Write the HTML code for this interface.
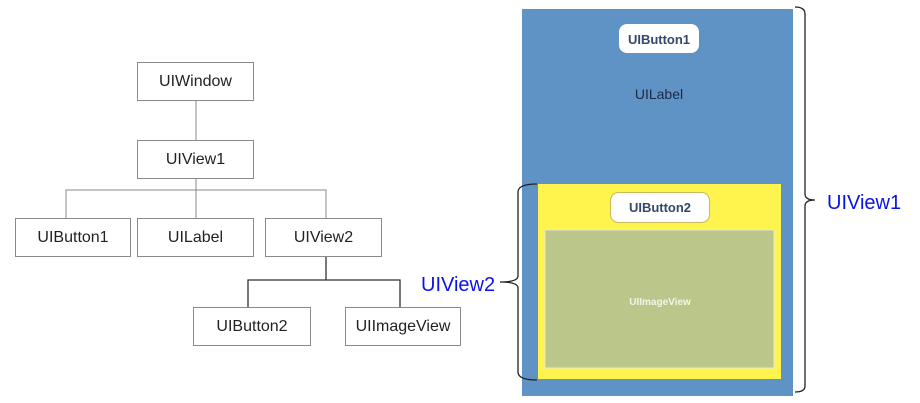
<!DOCTYPE html>
<html><head><style>
body{margin:0;width:920px;height:403px;background:#fff;position:relative;overflow:hidden;font-family:"Liberation Sans",Arial,sans-serif}
.b{position:absolute;box-sizing:border-box;border:1px solid #8a8a8a;background:#fff;display:flex;align-items:center;justify-content:center;font-size:16px;color:#222}
.a{position:absolute}
</style></head><body>
<svg class="a" style="left:0;top:0" width="920" height="403">
<g stroke="#888" stroke-width="1" fill="none">
<line x1="196" y1="101" x2="196" y2="140"/>
<line x1="196" y1="179" x2="196" y2="218"/>
<polyline points="66,218 66,190 326,190 326,218"/>
</g>
<g stroke="#333" stroke-width="1.3" fill="none">
<line x1="326" y1="257" x2="326" y2="280"/>
<polyline points="248,307 248,280 400,280 400,307"/>
</g>
<rect x="522" y="9" width="271" height="387" fill="#5f93c6"/>
<rect x="538" y="184" width="243" height="195" fill="#fff44d"/>
<rect x="545" y="230" width="229" height="138" fill="#bbc68a" stroke="#e6e6d0" stroke-width="1"/>
<rect x="619" y="24" width="80" height="29" rx="8" fill="#fff"/>
<rect x="610.5" y="192.5" width="99" height="30" rx="8" fill="#fff" stroke="#c8b860"/>
<g stroke="#222" stroke-width="1.3" fill="none">
<path d="M795,7 Q805,7 805,14 L805,194 Q805,200 815,200 Q805,200 805,206 L805,386 Q805,392 795,392"/>
<path d="M537,184 Q518,184 518,192 L518,276 Q518,282 500,282 Q518,282 518,288 L518,372 Q518,380 537,380"/>
</g>
<text x="659" y="44" font-size="13" font-weight="bold" fill="#33486a" text-anchor="middle" font-family="Liberation Sans">UIButton1</text>
<text x="659" y="99" font-size="14" fill="#1a2a44" text-anchor="middle" font-family="Liberation Sans">UILabel</text>
<text x="660" y="212" font-size="13" font-weight="bold" fill="#33486a" text-anchor="middle" font-family="Liberation Sans">UIButton2</text>
<text x="660" y="305" font-size="10" font-weight="bold" fill="#f4f4e8" text-anchor="middle" font-family="Liberation Sans">UIImageView</text>
<text x="827" y="209" font-size="20" fill="#0a14e6" font-family="Liberation Sans">UIView1</text>
<text x="421" y="291" font-size="20" fill="#0a14e6" font-family="Liberation Sans">UIView2</text>
</svg>
<div class="b" style="left:137px;top:62px;width:117px;height:39px">UIWindow</div>
<div class="b" style="left:137px;top:140px;width:117px;height:39px">UIView1</div>
<div class="b" style="left:15px;top:218px;width:116px;height:39px">UIButton1</div>
<div class="b" style="left:137px;top:218px;width:117px;height:39px">UILabel</div>
<div class="b" style="left:265px;top:218px;width:117px;height:39px">UIView2</div>
<div class="b" style="left:193px;top:307px;width:118px;height:39px">UIButton2</div>
<div class="b" style="left:345px;top:307px;width:116px;height:39px">UIImageView</div>
</body></html>
